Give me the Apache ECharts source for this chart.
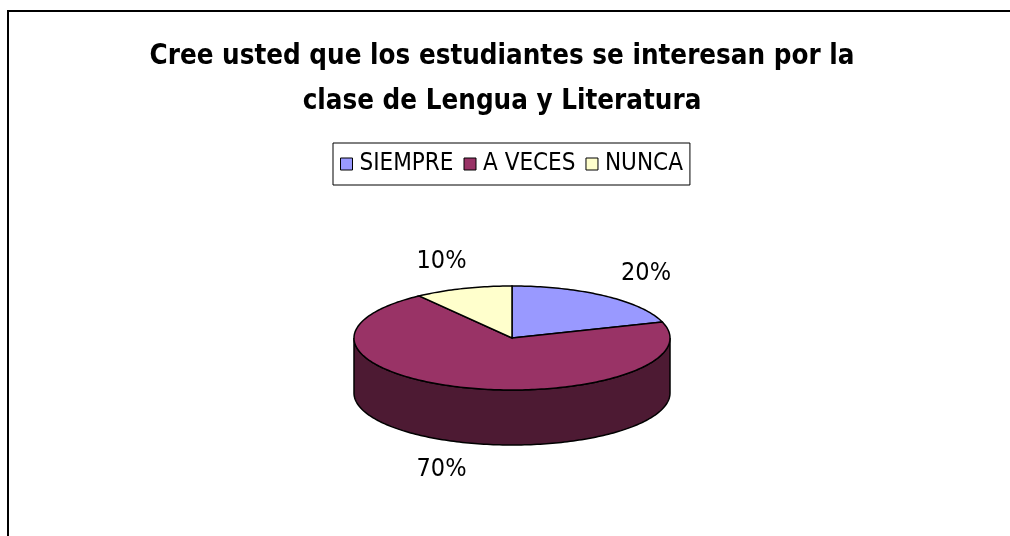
<!DOCTYPE html>
<html>
<head>
<meta charset="utf-8">
<script src="https://cdn.jsdelivr.net/npm/echarts@6/dist/echarts.min.js"></script>
<style>
  html, body { margin: 0; padding: 0; background: #fff; }
  #chart { width: 1010px; height: 536px; }
</style>
</head>
<body>
<div id="chart"></div>
<script>
const titleText = "Cree usted que los estudiantes se interesan por la\nclase de Lengua y Literatura";
const categories = ["SIEMPRE", "A VECES", "NUNCA"];
const values = [20, 70, 10];
const colors = ["#9999FF", "#993366", "#FFFFCC"];

const FONT = "'DejaVu Sans Condensed', 'DejaVu Sans', sans-serif";
const total = values.reduce((a, b) => a + b, 0);

// fake 3D pie: flattened ellipse + front wall
const pie = { cx: 512, cy: 338, rx: 158, ry: 52, depth: 55, labelRx: 228, labelRy: 80 };

const darken = (hex, f) => {
    const n = parseInt(hex.slice(1), 16);
    const r = Math.round(((n >> 16) & 255) * f);
    const g = Math.round(((n >> 8) & 255) * f);
    const b = Math.round((n & 255) * f);
    return "rgb(" + r + "," + g + "," + b + ")";
};

// angle measured clockwise from 12 o'clock, in radians
const pt = (a, dy) => [pie.cx + pie.rx * Math.sin(a), pie.cy - pie.ry * Math.cos(a) + (dy || 0)];

const arc = (a0, a1, dy) => {
    const pts = [];
    const steps = Math.max(2, Math.ceil(Math.abs(a1 - a0) / 0.02));
    for (let i = 0; i <= steps; i++) pts.push(pt(a0 + (a1 - a0) * i / steps, dy));
    return pts;
};

const startAngles = [];
let acc = 0;
values.forEach(v => { startAngles.push(acc / total * Math.PI * 2); acc += v; });

const makeRender = idx => (params, api) => {
    const a0 = startAngles[idx];
    const a1 = a0 + values[idx] / total * Math.PI * 2;
    const color = colors[idx];
    const children = [];

    // visible front wall: part of the slice between 90deg and 270deg
    const f0 = Math.max(a0, Math.PI / 2);
    const f1 = Math.min(a1, Math.PI * 3 / 2);
    if (f1 > f0) {
        const top = arc(f0, f1, 0);
        const bottom = arc(f1, f0, pie.depth);
        children.push({
            type: "polygon",
            z2: 1,
            shape: { points: top.concat(bottom) },
            style: { fill: darken(color, 0.5), stroke: "#000", lineWidth: 1.5 }
        });
    }

    children.push({
        type: "polygon",
        z2: 2,
        shape: { points: [[pie.cx, pie.cy]].concat(arc(a0, a1, 0)) },
        style: { fill: color, stroke: "#000", lineWidth: 1.5 }
    });

    const mid = (a0 + a1) / 2;
    const lx = pie.cx + pie.labelRx * Math.sin(mid);
    const ly = pie.cy - pie.labelRy * Math.cos(mid) + (Math.cos(mid) < 0 ? pie.depth : 0);
    children.push({
        type: "text",
        z2: 3,
        style: {
            text: Math.round(values[idx] / total * 100) + "%",
            x: lx, y: ly,
            align: "center", verticalAlign: "middle",
            fill: "#000",
            font: "25px " + FONT
        }
    });

    return { type: "group", children: children };
};

const chart = echarts.init(document.getElementById("chart"));
chart.setOption({
    animation: false,
    backgroundColor: "#fff",
    title: {
        text: titleText,
        left: 497,
        textAlign: "center",
        top: 29,
        textStyle: { fontFamily: FONT, fontWeight: "bold", fontSize: 27.5, lineHeight: 45, color: "#000" }
    },
    legend: {
        data: categories,
        top: 143,
        left: 333,
        itemWidth: 12,
        itemHeight: 12,
        itemGap: 10,
        padding: [9, 7, 9, 7],
        borderColor: "#000",
        borderWidth: 1,
        borderRadius: 0,
        icon: "rect",
        itemStyle: { borderColor: "#000", borderWidth: 1 },
        textStyle: { fontFamily: FONT, fontSize: 24, color: "#000", padding: [0, 0, 0, 2] }
    },
    graphic: [{
        type: "rect",
        shape: { x: 8, y: 11, width: 1100, height: 700 },
        style: { fill: null, stroke: "#000", lineWidth: 2 },
        silent: true
    }],
    series: categories.map((name, i) => ({
        type: "custom",
        name: name,
        coordinateSystem: "none",
        itemStyle: { color: colors[i] },
        data: [values[i]],
        renderItem: makeRender(i)
    }))
});
</script>
</body>
</html>
